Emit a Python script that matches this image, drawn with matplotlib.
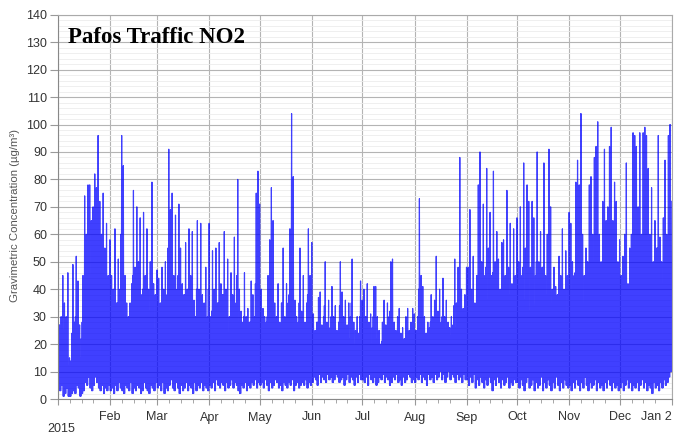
import numpy as np
import matplotlib
matplotlib.use('Agg')
import matplotlib.pyplot as plt
import matplotlib.transforms as mtransforms
from matplotlib.ticker import MultipleLocator, FixedLocator

# Daily values (µg/m3): lowest hour, a typical second peak, highest hour
month_names = ['Jan', 'Feb', 'Mar', 'Apr', 'May', 'Jun',
               'Jul', 'Aug', 'Sep', 'Oct', 'Nov', 'Dec']
month_days = [31, 28, 31, 30, 31, 30, 31, 31, 30, 31, 30, 31]

daily_max = [
    # Jan
    27, 30, 45, 35, 30, 46, 15, 14, 49, 28, 52, 43, 27, 22, 45, 74, 60, 78, 78, 65, 70, 82, 77, 96, 72, 60, 75, 55, 64, 45, 58,
    # Feb
    45, 40, 62, 35, 51, 40, 96, 85, 45, 35, 30, 35, 42, 76, 48, 70, 50, 66, 38, 68, 45, 62, 40, 50, 79, 42, 38, 47,
    # Mar
    44, 35, 48, 40, 50, 38, 91, 69, 75, 45, 67, 40, 71, 55, 42, 38, 57, 40, 62, 45, 61, 36, 30, 65, 40, 64, 38, 35, 48, 30, 64,
    # Apr
    30, 54, 40, 55, 35, 57, 42, 38, 61, 40, 51, 30, 46, 38, 59, 35, 80, 40, 32, 28, 46, 30, 33, 28, 43, 38, 30, 75, 83, 71,
    # May
    40, 33, 30, 28, 45, 58, 77, 65, 35, 30, 42, 28, 35, 55, 30, 42, 35, 62, 104, 81, 36, 30, 28, 55, 32, 45, 28, 35, 62, 45, 57,
    # Jun
    31, 25, 28, 37, 39, 27, 30, 50, 28, 36, 26, 41, 30, 34, 25, 28, 50, 39, 30, 36, 27, 35, 30, 51, 28, 25, 30, 24, 43, 36,
    # Jul
    40, 30, 42, 28, 31, 26, 41, 41, 30, 25, 20, 28, 36, 27, 35, 30, 50, 51, 28, 25, 30, 33, 24, 26, 22, 30, 33, 25, 28, 33, 31,
    # Aug
    25, 30, 73, 45, 41, 30, 24, 28, 26, 38, 30, 36, 52, 32, 40, 28, 44, 30, 36, 28, 26, 30, 27, 51, 35, 48, 88, 40, 33, 38, 48,
    # Sep
    48, 69, 40, 52, 35, 45, 78, 90, 50, 71, 45, 84, 55, 68, 45, 83, 50, 61, 51, 40, 57, 58, 45, 76, 48, 64, 42, 62, 45, 66,
    # Oct
    50, 70, 45, 86, 55, 78, 72, 48, 72, 66, 45, 90, 50, 61, 48, 86, 45, 60, 91, 70, 40, 48, 41, 38, 52, 45, 62, 40, 54, 45, 68,
    # Nov
    64, 50, 45, 79, 87, 78, 104, 60, 45, 55, 50, 78, 81, 60, 88, 92, 101, 60, 50, 72, 91, 65, 70, 92, 99, 65, 79, 72, 50, 58,
    # Dec
    45, 52, 60, 86, 42, 55, 60, 97, 96, 92, 70, 97, 60, 97, 99, 96, 84, 60, 77, 50, 65, 55, 96, 59, 50, 66, 87, 60, 96, 100, 72,
]

daily_min = [
    6, 3, 5, 1, 2, 4, 1, 1, 2, 3, 2, 5, 4, 1, 2, 3, 6, 5, 8, 4, 3, 5, 8, 6, 4, 3, 5, 2, 4, 3, 5,
    3, 4, 2, 5, 3, 6, 4, 3, 2, 5, 4, 3, 6, 2, 4, 3, 5, 4, 2, 3, 6, 4, 3, 2, 5, 4, 3, 6,
    4, 5, 3, 6, 2, 4, 3, 5, 7, 4, 3, 6, 4, 2, 5, 3, 4, 6, 3, 5, 4, 2, 6, 3, 5, 4, 6, 3, 5, 4, 3,
    5, 4, 6, 3, 7, 5, 4, 6, 5, 3, 6, 4, 5, 7, 4, 6, 5, 3, 2, 5, 4, 6, 3, 5, 4, 6, 5, 7, 4, 6,
    5, 6, 4, 7, 5, 3, 6, 4, 5, 7, 6, 4, 5, 3, 6, 5, 4, 6, 5, 7, 3, 5, 6, 4, 5, 6, 5, 7, 4, 6, 5,
    6, 8, 7, 5, 9, 6, 8, 7, 6, 9, 7, 8, 6, 7, 9, 8, 6, 7, 8, 5, 7, 9, 6, 8, 7, 5, 8, 6, 9, 7,
    7, 6, 8, 5, 9, 7, 6, 8, 5, 6, 8, 7, 9, 6, 8, 7, 5, 6, 8, 7, 9, 6, 7, 5, 8, 6, 7, 9, 8, 6, 7,
    6, 8, 7, 9, 6, 8, 7, 5, 9, 7, 8, 6, 9, 7, 8, 10, 7, 9, 6, 8, 10, 7, 9, 8, 6, 9, 7, 8, 6, 9, 7,
    7, 5, 8, 6, 9, 4, 7, 5, 8, 6, 4, 7, 5, 8, 6, 3, 7, 5, 8, 6, 4, 7, 5, 6, 8, 4, 6, 5, 7, 6,
    6, 4, 7, 5, 3, 6, 8, 4, 5, 7, 3, 6, 4, 5, 8, 3, 6, 4, 7, 5, 3, 6, 4, 8, 5, 3, 6, 4, 7, 5, 4,
    5, 3, 6, 4, 7, 5, 3, 6, 4, 8, 5, 3, 6, 4, 5, 7, 3, 6, 4, 5, 3, 6, 4, 7, 5, 3, 6, 4, 5, 3,
    4, 6, 3, 5, 7, 4, 6, 3, 5, 4, 6, 3, 5, 7, 4, 6, 3, 5, 4, 2, 6, 4, 5, 3, 6, 4, 7, 5, 6, 8, 10,
]

daily_second = [
    18, 22, 28, 25, 20, 26, 12, 10, 24, 20, 30, 28, 18, 15, 28, 42, 38, 50, 55, 45, 48, 52, 55, 60, 50, 40, 48, 38, 42, 30, 40,
    32, 28, 40, 25, 35, 30, 60, 55, 30, 22, 20, 24, 28, 45, 32, 40, 34, 38, 25, 40, 30, 36, 26, 32, 45, 28, 25, 30,
    30, 25, 32, 28, 35, 26, 55, 48, 45, 30, 42, 28, 45, 36, 30, 26, 38, 28, 40, 30, 38, 24, 20, 40, 26, 38, 26, 24, 32, 20, 40,
    22, 32, 28, 34, 24, 35, 28, 26, 38, 28, 32, 22, 30, 26, 36, 24, 45, 28, 22, 20, 30, 22, 24, 20, 28, 26, 22, 42, 48, 40,
    26, 24, 22, 20, 30, 36, 45, 40, 25, 22, 28, 20, 24, 35, 22, 28, 25, 38, 55, 48, 25, 22, 20, 35, 24, 30, 20, 25, 38, 30, 35,
    24, 20, 22, 28, 30, 20, 23, 34, 21, 27, 20, 30, 22, 26, 19, 22, 34, 28, 23, 27, 20, 26, 22, 35, 21, 19, 23, 18, 30, 27,
    28, 22, 30, 21, 24, 20, 30, 30, 22, 19, 16, 21, 26, 20, 25, 22, 32, 33, 21, 19, 22, 24, 18, 20, 17, 22, 24, 19, 21, 24, 23,
    19, 22, 40, 32, 30, 22, 19, 21, 20, 28, 22, 26, 34, 24, 28, 21, 30, 23, 26, 21, 20, 23, 21, 34, 26, 32, 45, 28, 24, 28, 33,
    32, 42, 28, 35, 25, 30, 45, 50, 34, 42, 30, 48, 36, 40, 30, 46, 34, 38, 34, 28, 36, 38, 30, 42, 32, 38, 28, 38, 30, 40,
    34, 42, 30, 48, 36, 44, 42, 32, 42, 40, 30, 50, 33, 38, 32, 48, 30, 38, 50, 42, 28, 32, 28, 26, 34, 30, 38, 28, 34, 30, 40,
    40, 34, 30, 46, 50, 45, 55, 38, 30, 36, 34, 46, 48, 38, 50, 52, 55, 38, 34, 44, 50, 40, 42, 52, 55, 40, 46, 44, 34, 38,
    32, 36, 40, 50, 30, 38, 40, 55, 55, 52, 44, 55, 40, 55, 56, 55, 50, 40, 46, 34, 42, 38, 55, 40, 35, 42, 50, 40, 55, 56, 45,
]

# one daily cycle: night low, morning peak, afternoon low, evening peak
day = np.arange(len(daily_max))
mn = np.array(daily_min, dtype=float)
sc = np.array(daily_second, dtype=float)
mx = np.array(daily_max, dtype=float)
x = np.column_stack([day + 0.1, day + 0.35, day + 0.6, day + 0.85]).ravel()
y = np.column_stack([mn, sc, mn, mx]).ravel()

month_starts = np.concatenate([[0], np.cumsum(month_days)])

fig = plt.figure(figsize=(6.77, 4.34), dpi=100)
ax = fig.add_axes([58 / 677, 35 / 434, 614 / 677, 384.3 / 434])

ax.plot(x, y, color='#0000ff', linewidth=0.85, alpha=0.75)

ax.set_xlim(0, 365)
ax.set_ylim(0, 140)

# grid
ax.yaxis.set_major_locator(MultipleLocator(10))
ax.yaxis.set_minor_locator(MultipleLocator(2))
ax.xaxis.set_major_locator(FixedLocator(month_starts))
minor_x = [s + d for s in month_starts[:-1] for d in (7, 14, 21)]
ax.xaxis.set_minor_locator(FixedLocator(minor_x))
ax.grid(which='major', axis='both', color='#b4b4b4', linewidth=0.8)
ax.grid(which='minor', axis='y', color='#ececec', linewidth=0.6)
ax.set_axisbelow(True)

ax.set_xticklabels([''] + month_names[1:] + ['Jan 2'])
for lab in ax.get_xticklabels() + ax.get_yticklabels():
    lab.set_fontfamily('Liberation Sans')
    lab.set_fontsize(9)
    lab.set_color('#333333')
# last label sits flush with the right edge of the picture
last = ax.get_xticklabels()[-1]
last.set_horizontalalignment('right')
last.set_transform(last.get_transform() +
                   mtransforms.ScaledTranslation(4 / 100, 0, fig.dpi_scale_trans))

ax.tick_params(axis='y', which='major', length=6, color='#999999', pad=2)
ax.tick_params(axis='y', which='minor', length=0)
ax.tick_params(axis='x', which='major', length=4, color='#999999', pad=5)
ax.tick_params(axis='x', which='minor', length=3, color='#999999')

for side in ['left', 'bottom']:
    ax.spines[side].set_color('#888888')
for side in ['top', 'right']:
    ax.spines[side].set_color('#aaaaaa')

ax.text(0.016, 0.926, 'Pafos Traffic NO2', transform=ax.transAxes,
        family='Liberation Serif', fontweight='bold', fontsize=16.5,
        ha='left', va='baseline', color='black')

fig.text(15 / 677, 1 - 215 / 434, 'Gravimetric Concentration (µg/m³)',
         rotation=90, ha='center', va='center', family='Liberation Sans',
         fontsize=8.2, color='#555555')
fig.text(47 / 677, 1 - 429 / 434, '2015', ha='left', va='center',
         family='Liberation Sans', fontsize=9, color='#333333')

fig.savefig('out.png', dpi=100)
